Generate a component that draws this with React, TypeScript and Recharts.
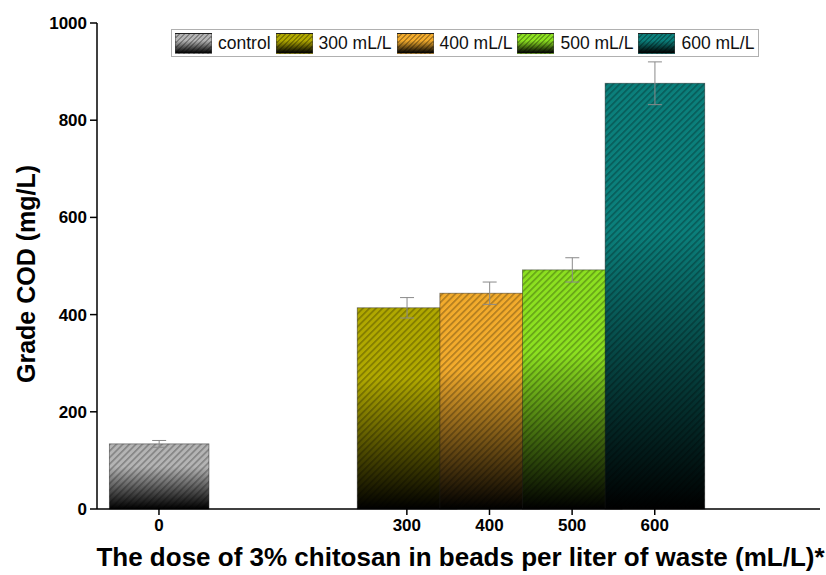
import { Bar, BarChart, ErrorBar, Label, XAxis, YAxis } from "recharts";

const doses = [0, 300, 400, 500, 600];
const codValues = [134, 414, 444, 492, 876];
const codErrors = [7, 21, 23, 25, 44];
const seriesNames = ["control", "300 mL/L", "400 mL/L", "500 mL/L", "600 mL/L"];
const seriesColors = ["#b4b4b4", "#b0a800", "#f2ab2c", "#8ce020", "#0b7f7b"];
const yTicks = [0, 200, 400, 600, 800, 1000];

const data = doses.map((dose, i) => ({ dose, cod: codValues[i], err: codErrors[i] }));

const FONT = "Arial, 'Liberation Sans', Helvetica, sans-serif";
const axisStroke = { stroke: "#000", strokeWidth: 1.5 };
const tickStyle = { fill: "#000", fontSize: 17, fontWeight: 700, fontFamily: FONT };

// bars are a bit wider than the 100-unit spacing, so neighbours overlap
function HatchedBar(props: any) {
  const { x, y, width, height, index } = props;
  if (!height || height <= 0) return null;
  const w = width * 1.2;
  const left = x + width / 2 - w / 2;
  return (
    <g>
      <rect x={left} y={y} width={w} height={height} fill={`url(#fade-${index})`} />
      <rect x={left} y={y} width={w} height={height} fill="url(#hatch)" stroke="rgba(30,30,30,0.55)" strokeWidth={0.8} />
    </g>
  );
}

function XTitle({ viewBox }: any) {
  return (
    <text x={viewBox.x + viewBox.width / 2 + 2} y={viewBox.y + 57} textAnchor="middle" fontFamily={FONT} fontWeight={700} fontSize={26} fill="#000">
      The dose of 3% chitosan in beads per liter of waste (mL/L)*
    </text>
  );
}

function YTitle({ viewBox }: any) {
  const cx = viewBox.x + 35;
  const cy = viewBox.y + viewBox.height / 2 + 8;
  return (
    <text x={cx} y={cy} transform={`rotate(-90 ${cx} ${cy})`} textAnchor="middle" fontFamily={FONT} fontWeight={700} fontSize={25} fill="#000">
      Grade COD (mg/L)
    </text>
  );
}

function LegendBox() {
  return (
    <div style={{ position: "absolute", left: 171, top: 29, height: 26, display: "flex", alignItems: "center", border: "1px solid #b0b0b0", background: "#fff", padding: "0 4px 0 3px", fontFamily: FONT, fontSize: 17.5, color: "#111" }}>
      {seriesNames.map((name, i) => (
        <div key={name} style={{ display: "flex", alignItems: "center", marginRight: i < seriesNames.length - 1 ? 5 : 0 }}>
          <span style={{ display: "inline-block", width: 37, height: 21, marginRight: 6, border: "1px solid rgba(60,60,60,0.5)", boxSizing: "border-box",
            background: `repeating-linear-gradient(135deg, rgba(0,0,0,0) 0 2px, rgba(0,0,0,0.28) 2px 3.4px), linear-gradient(to bottom, ${seriesColors[i]} 0%, ${seriesColors[i]} 35%, #000 100%)` }} />
          <span>{name}</span>
        </div>
      ))}
    </div>
  );
}

export default function App() {
  return (
    <div style={{ position: "absolute", left: 0, top: 0, width: 826, height: 575, background: "#fff" }}>
      <BarChart width={826} height={575} data={data} margin={{ top: 23, right: 6, bottom: 0, left: 0 }} barCategoryGap={0} barGap={0}>
        <defs>
          {seriesColors.map((c, i) => (
            <linearGradient key={c} id={`fade-${i}`} x1="0" y1="0" x2="0" y2="1">
              <stop offset="0" stopColor={c} />
              <stop offset="0.35" stopColor={c} />
              <stop offset="1" stopColor="#000" />
            </linearGradient>
          ))}
          <pattern id="hatch" width="4.6" height="4.6" patternUnits="userSpaceOnUse" patternTransform="rotate(45)">
            <rect x="0" y="0" width="1.6" height="4.6" fill="rgba(0,0,0,0.28)" />
          </pattern>
        </defs>
        <XAxis dataKey="dose" type="number" domain={[-75, 800]} ticks={doses} allowDataOverflow height={66}
          tickSize={6} tickMargin={4} axisLine={axisStroke} tickLine={axisStroke} tick={tickStyle}>
          <Label content={XTitle} />
        </XAxis>
        <XAxis xAxisId="top" orientation="top" type="number" domain={[-75, 800]} height={0} tick={false} tickLine={false} axisLine={axisStroke} />
        <YAxis type="number" domain={[0, 1000]} ticks={yTicks} width={97} tickSize={7} tickMargin={3}
          axisLine={axisStroke} tickLine={axisStroke} tick={tickStyle}>
          <Label content={YTitle} />
        </YAxis>
        <YAxis yAxisId="right" orientation="right" type="number" domain={[0, 1000]} width={0} tick={false} tickLine={false} axisLine={axisStroke} />
        <Bar dataKey="cod" isAnimationActive={false} shape={HatchedBar}>
          <ErrorBar dataKey="err" width={7} stroke="#8a8a8a" strokeWidth={1} direction="y" isAnimationActive={false} />
        </Bar>
      </BarChart>
      <LegendBox />
    </div>
  );
}
